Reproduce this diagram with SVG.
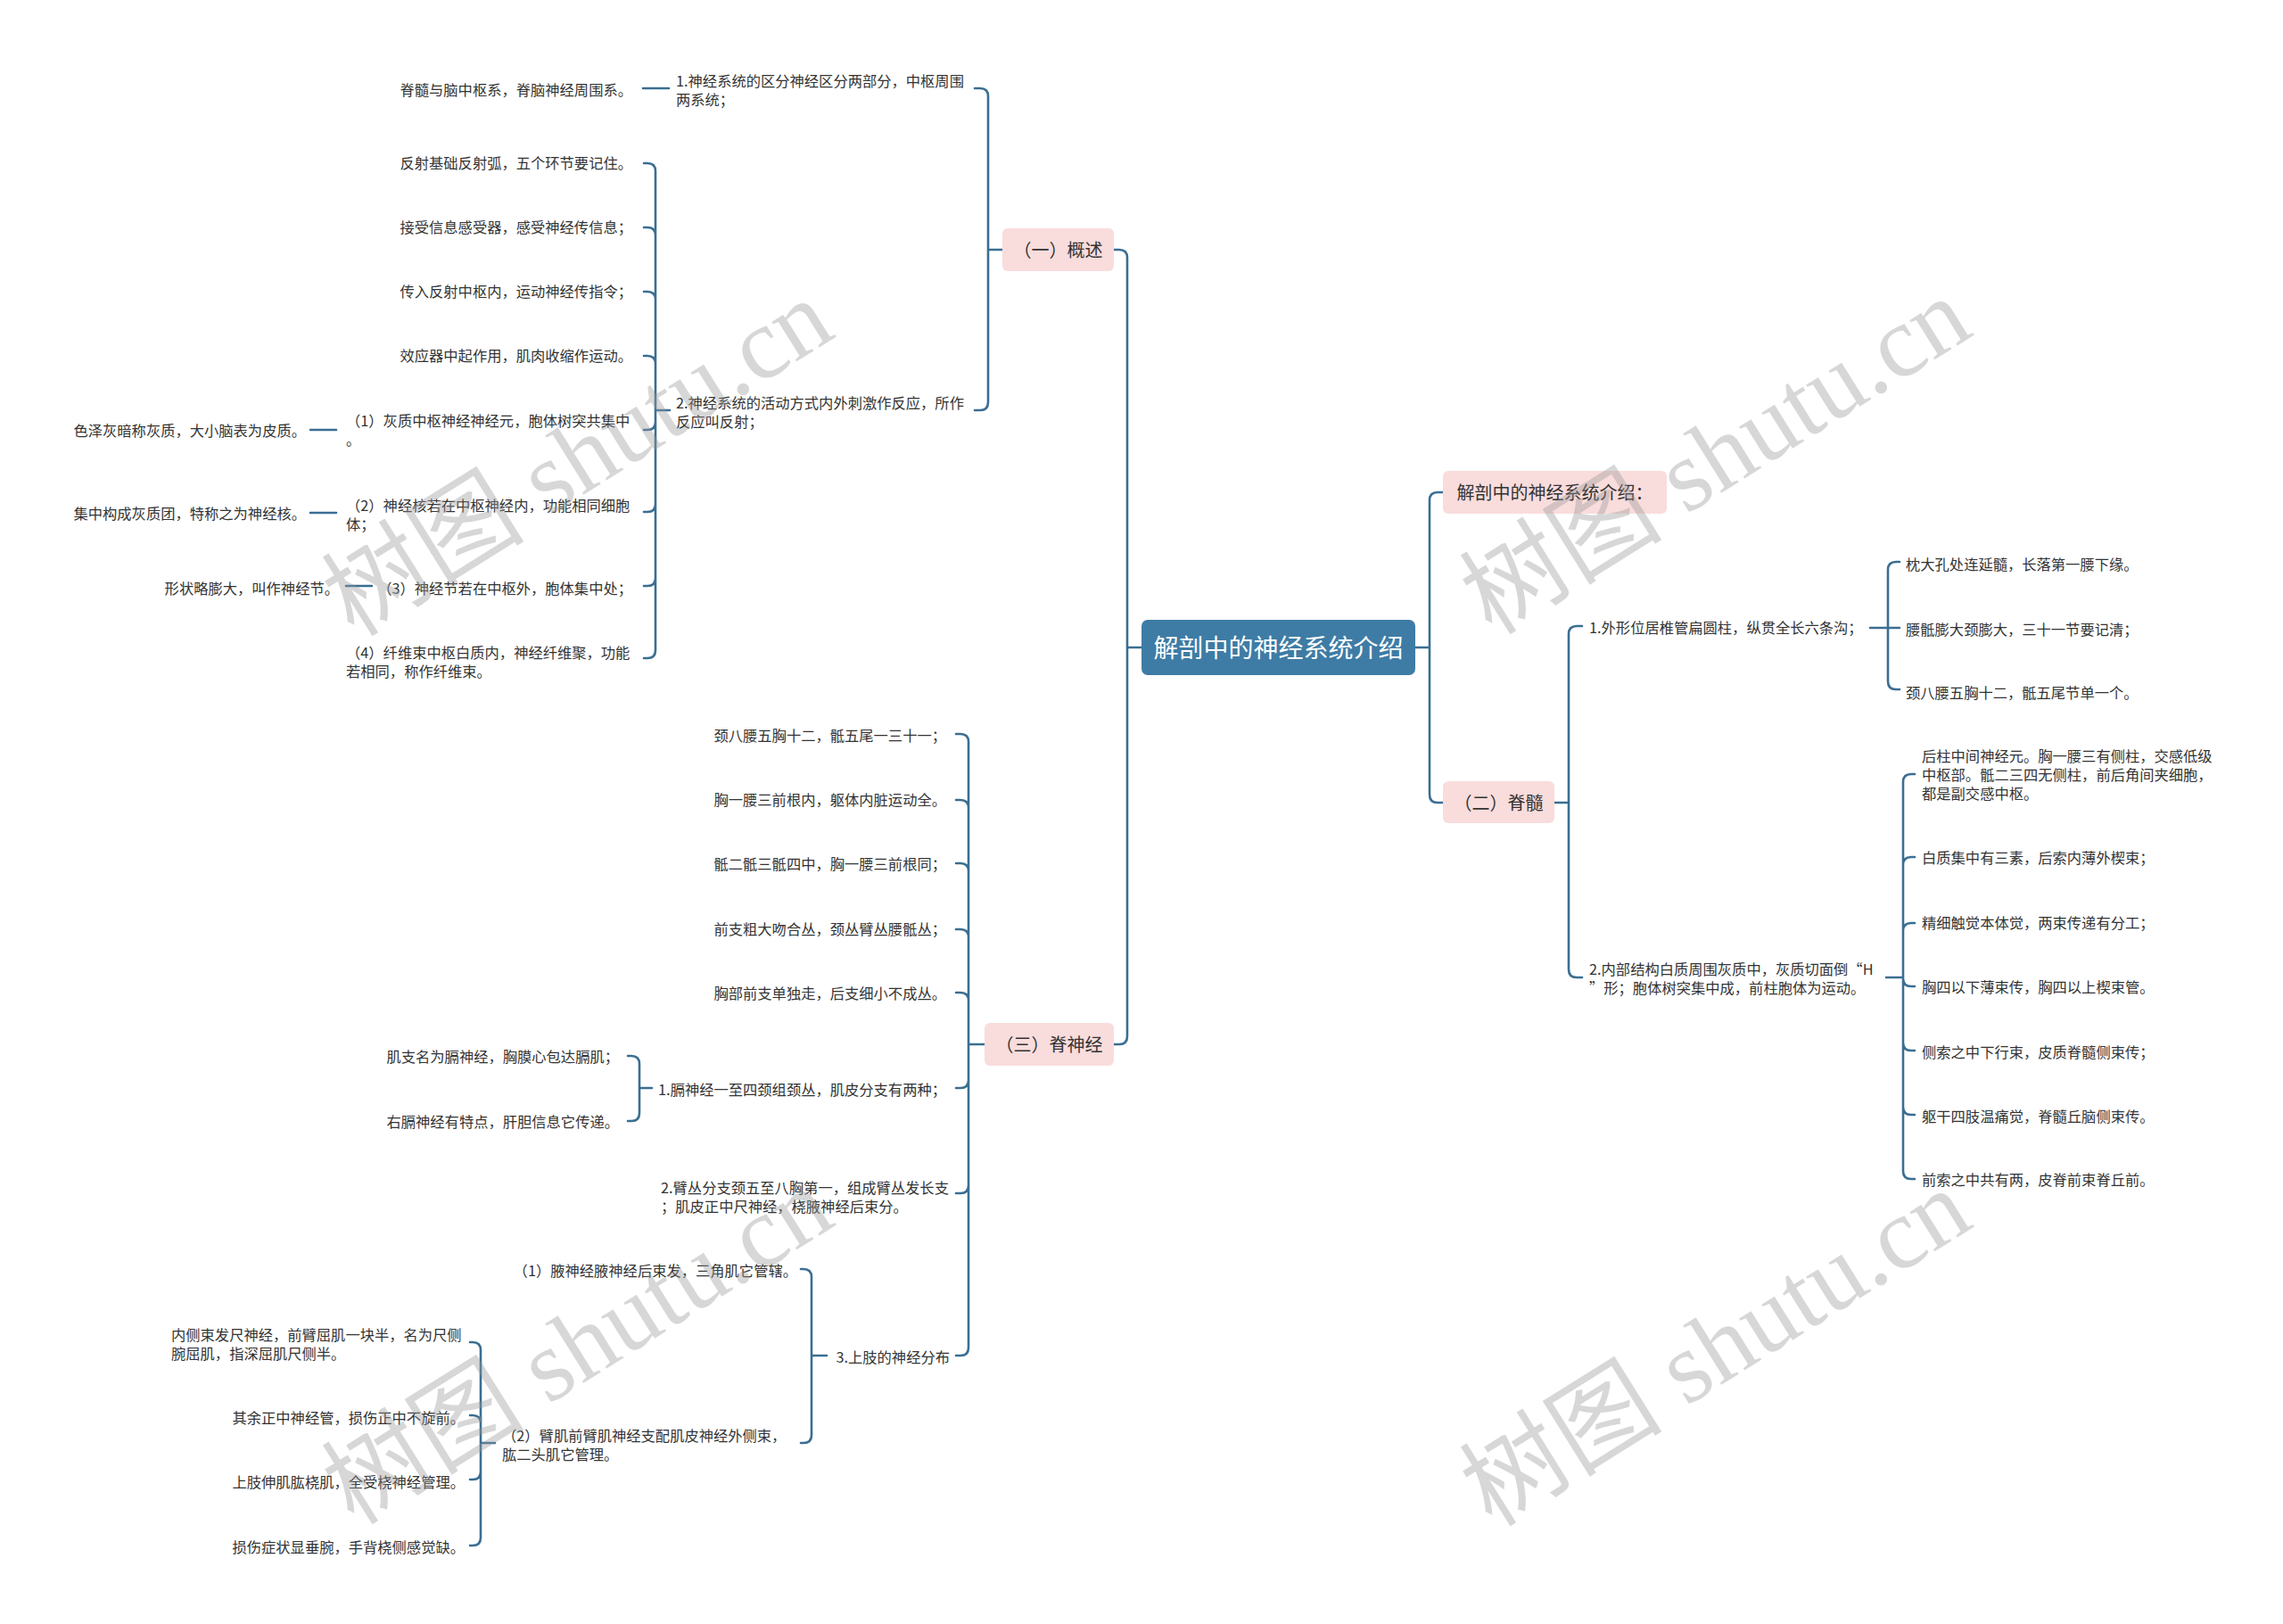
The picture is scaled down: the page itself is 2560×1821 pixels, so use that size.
<svg xmlns="http://www.w3.org/2000/svg" width="2560" height="1821" viewBox="0 0 2560 1821">
<style>
.t{font-family:"Noto Sans CJK SC","Noto Sans",sans-serif;font-size:16.3px;fill:#333}
.e{text-anchor:end}
.m{text-anchor:middle}
.l1{font-size:20px}
.rt{font-size:28px;fill:#fff}
.pk{fill:#f9dcdc}
.c path{fill:none;stroke:#3a6e92;stroke-width:2.6;stroke-linecap:round;stroke-linejoin:round}
.wm{font-family:"Liberation Serif","Noto Sans CJK SC",serif;font-size:114px;fill:#999;opacity:0.38;text-anchor:middle}
</style>
<rect width="2560" height="1821" fill="#fff"/>
<g id="connectors" class="c">
<path d="M1280 726H1264M1264 726V289Q1264 280 1255 280H1249M1264 726V1162Q1264 1171 1255 1171H1249"/>
<path d="M1587 726H1603M1603 726V561Q1603 552 1612 552H1618M1603 726V891Q1603 900 1612 900H1618"/>
<path d="M1124 280H1108M1108 280V108Q1108 99 1099 99H1093M1108 280V451Q1108 460 1099 460H1093"/>
<path d="M750 99H721"/>
<path d="M751 460H735M735 460V192Q735 183 726 183H722M735 460V264Q735 255 726 255H722M735 460V336Q735 327 726 327H722M735 460V408Q735 399 726 399H722M735 460V473Q735 482 726 482H722M735 460V565Q735 574 726 574H722M735 460V648Q735 657 726 657H722M735 460V729Q735 738 726 738H722"/>
<path d="M377 482H348M377 575H348M417 657H388"/>
<path d="M1104 1171H1086M1086 1171V832Q1086 823 1077 823H1072M1086 1171V906Q1086 897 1077 897H1072M1086 1171V977Q1086 968 1077 968H1072M1086 1171V1051Q1086 1042 1077 1042H1072M1086 1171V1122Q1086 1113 1077 1113H1072M1086 1171V1211Q1086 1220 1077 1220H1072M1086 1171V1329Q1086 1338 1077 1338H1072M1086 1171V1511Q1086 1520 1077 1520H1072"/>
<path d="M731 1220H717M717 1220V1193Q717 1184 708 1184H704M717 1220V1248Q717 1257 708 1257H704"/>
<path d="M927 1520H910M910 1520V1432Q910 1423 901 1423H898M910 1520V1609Q910 1618 901 1618H898"/>
<path d="M555 1618H539M539 1618V1514Q539 1505 530 1505H527M539 1618V1596Q539 1587 530 1587H527M539 1618V1650Q539 1659 530 1659H527M539 1618V1724Q539 1733 530 1733H527"/>
<path d="M1743 900H1759M1759 900V711Q1759 702 1768 702H1774M1759 900V1087Q1759 1096 1768 1096H1774"/>
<path d="M2097 704H2117M2117 704V639Q2117 630 2126 630H2130M2117 704H2130M2117 704V764Q2117 773 2126 773H2130"/>
<path d="M2115 1096H2134M2134 1096V877Q2134 868 2143 868H2147M2134 1096V970Q2134 961 2143 961H2147M2134 1096V1044Q2134 1035 2143 1035H2147M2134 1096V1097Q2134 1106 2143 1106H2147M2134 1096V1169Q2134 1178 2143 1178H2147M2134 1096V1241Q2134 1250 2143 1250H2147M2134 1096V1313Q2134 1322 2143 1322H2147"/>
</g>
<g id="n-root"><rect x="1280" y="695" width="307" height="62" rx="7" fill="#3e7ca5"/><text class="t rt m" x="1433.5" y="736.5">解剖中的神经系统介绍</text></g>
<g id="n-gaishu"><rect class="pk" x="1124" y="256" width="125" height="48" rx="6"/><text class="t l1 m" x="1186.5" y="287.5">（一）概述</text></g>
<g id="n-jishenjing"><rect class="pk" x="1104" y="1147" width="145" height="48" rx="6"/><text class="t l1 m" x="1176.5" y="1178.5">（三）脊神经</text></g>
<g id="n-jieshao"><rect class="pk" x="1618" y="528" width="251" height="48" rx="6"/><text class="t l1 m" x="1743.5" y="559.5">解剖中的神经系统介绍：</text></g>
<g id="n-jisui"><rect class="pk" x="1618" y="876" width="125" height="47" rx="6"/><text class="t l1 m" x="1680.5" y="907.5">（二）脊髓</text></g>
<g id="n-a1"><text class="t" x="758"><tspan x="758" y="97">1.神经系统的区分神经区分两部分，中枢周围</tspan><tspan x="758" y="118">两系统；</tspan></text></g>
<g id="n-a1-1"><text class="t e" x="709" y="107">脊髓与脑中枢系，脊脑神经周围系。</text></g>
<g id="n-a2"><text class="t" x="758"><tspan x="758" y="458">2.神经系统的活动方式内外刺激作反应，所作</tspan><tspan x="758" y="479">反应叫反射；</tspan></text></g>
<g id="n-a2-1"><text class="t e" x="709" y="189">反射基础反射弧，五个环节要记住。</text></g>
<g id="n-a2-2"><text class="t e" x="709" y="261">接受信息感受器，感受神经传信息；</text></g>
<g id="n-a2-3"><text class="t e" x="709" y="333">传入反射中枢内，运动神经传指令；</text></g>
<g id="n-a2-4"><text class="t e" x="709" y="405">效应器中起作用，肌肉收缩作运动。</text></g>
<g id="n-a2-5"><text class="t"><tspan x="388" y="478">（1）灰质中枢神经神经元，胞体树突共集中</tspan><tspan x="388" y="499">。</tspan></text></g>
<g id="n-a2-5-1"><text class="t e" x="343" y="489">色泽灰暗称灰质，大小脑表为皮质。</text></g>
<g id="n-a2-6"><text class="t"><tspan x="388" y="573">（2）神经核若在中枢神经内，功能相同细胞</tspan><tspan x="388" y="594">体；</tspan></text></g>
<g id="n-a2-6-1"><text class="t e" x="343" y="582">集中构成灰质团，特称之为神经核。</text></g>
<g id="n-a2-7"><text class="t e" x="709" y="666">（3）神经节若在中枢外，胞体集中处；</text></g>
<g id="n-a2-7-1"><text class="t e" x="380" y="666">形状略膨大，叫作神经节。</text></g>
<g id="n-a2-8"><text class="t"><tspan x="388" y="738">（4）纤维束中枢白质内，神经纤维聚，功能</tspan><tspan x="388" y="759">若相同，称作纤维束。</tspan></text></g>
<g id="n-c1"><text class="t e" x="1061" y="831">颈八腰五胸十二，骶五尾一三十一；</text></g>
<g id="n-c2"><text class="t e" x="1061" y="903">胸一腰三前根内，躯体内脏运动全。</text></g>
<g id="n-c3"><text class="t e" x="1061" y="975">骶二骶三骶四中，胸一腰三前根同；</text></g>
<g id="n-c4"><text class="t e" x="1061" y="1048">前支粗大吻合丛，颈丛臂丛腰骶丛；</text></g>
<g id="n-c5"><text class="t e" x="1061" y="1120">胸部前支单独走，后支细小不成丛。</text></g>
<g id="n-c6"><text class="t e" x="1061" y="1228">1.膈神经一至四颈组颈丛，肌皮分支有两种；</text></g>
<g id="n-c6-1"><text class="t e" x="694" y="1191">肌支名为膈神经，胸膜心包达膈肌；</text></g>
<g id="n-c6-2"><text class="t e" x="694" y="1264">右膈神经有特点，肝胆信息它传递。</text></g>
<g id="n-c7"><text class="t"><tspan x="741" y="1338">2.臂丛分支颈五至八胸第一，组成臂丛发长支</tspan><tspan x="741" y="1359">；肌皮正中尺神经，桡腋神经后束分。</tspan></text></g>
<g id="n-c8"><text class="t e" x="1065" y="1528">3.上肢的神经分布</text></g>
<g id="n-c8-1"><text class="t e" x="894" y="1431">（1）腋神经腋神经后束发，三角肌它管辖。</text></g>
<g id="n-c8-2"><text class="t"><tspan x="563" y="1616">（2）臂肌前臂肌神经支配肌皮神经外侧束，</tspan><tspan x="563" y="1637">肱二头肌它管理。</tspan></text></g>
<g id="n-c8-2-1"><text class="t"><tspan x="192" y="1503">内侧束发尺神经，前臂屈肌一块半，名为尺侧</tspan><tspan x="192" y="1524">腕屈肌，指深屈肌尺侧半。</tspan></text></g>
<g id="n-c8-2-2"><text class="t e" x="521" y="1596">其余正中神经管，损伤正中不旋前。</text></g>
<g id="n-c8-2-3"><text class="t e" x="521" y="1668">上肢伸肌肱桡肌，全受桡神经管理。</text></g>
<g id="n-c8-2-4"><text class="t e" x="521" y="1741">损伤症状显垂腕，手背桡侧感觉缺。</text></g>
<g id="n-b1"><text class="t" x="1782" y="710">1.外形位居椎管扁圆柱，纵贯全长六条沟；</text></g>
<g id="n-b1-1"><text class="t" x="2137" y="639">枕大孔处连延髓，长落第一腰下缘。</text></g>
<g id="n-b1-2"><text class="t" x="2137" y="712">腰骶膨大颈膨大，三十一节要记清；</text></g>
<g id="n-b1-3"><text class="t" x="2137" y="783">颈八腰五胸十二，骶五尾节单一个。</text></g>
<g id="n-b2"><text class="t"><tspan x="1782" y="1093">2.内部结构白质周围灰质中，灰质切面倒“H</tspan><tspan x="1782" y="1114">”形；胞体树突集中成，前柱胞体为运动。</tspan></text></g>
<g id="n-b2-1"><text class="t"><tspan x="2155" y="854">后柱中间神经元。胸一腰三有侧柱，交感低级</tspan><tspan x="2155" y="875">中枢部。骶二三四无侧柱，前后角间夹细胞，</tspan><tspan x="2155" y="896">都是副交感中枢。</tspan></text></g>
<g id="n-b2-2"><text class="t" x="2155" y="968">白质集中有三素，后索内薄外楔束；</text></g>
<g id="n-b2-3"><text class="t" x="2155" y="1041">精细触觉本体觉，两束传递有分工；</text></g>
<g id="n-b2-4"><text class="t" x="2155" y="1113">胸四以下薄束传，胸四以上楔束管。</text></g>
<g id="n-b2-5"><text class="t" x="2155" y="1186">侧索之中下行束，皮质脊髓侧束传；</text></g>
<g id="n-b2-6"><text class="t" x="2155" y="1258">躯干四肢温痛觉，脊髓丘脑侧束传。</text></g>
<g id="n-b2-7"><text class="t" x="2155" y="1329">前索之中共有两，皮脊前束脊丘前。</text></g>
<g id="watermarks">
<text class="wm" transform="translate(647 512) rotate(-32)" y="40">树图 shutu.cn</text>
<text class="wm" transform="translate(1923 510) rotate(-32)" y="40">树图 shutu.cn</text>
<text class="wm" transform="translate(647 1508) rotate(-32)" y="40">树图 shutu.cn</text>
<text class="wm" transform="translate(1923 1510) rotate(-32)" y="40">树图 shutu.cn</text>
</g>
</svg>
